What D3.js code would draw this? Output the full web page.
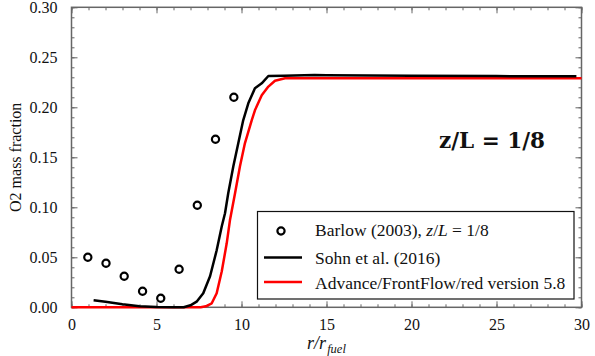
<!DOCTYPE html>
<html><head><meta charset="utf-8">
<script src="https://cdn.jsdelivr.net/npm/d3@7"></script>
<style>body{margin:0;background:#fff}svg{display:block}</style>
</head><body>
<script>
const barlowX = [0.96, 2.03, 3.1, 4.18, 5.25, 6.33, 7.4, 8.47, 9.55];
const barlowY = [0.050, 0.044, 0.031, 0.016, 0.009, 0.038, 0.102, 0.168, 0.210];
const sohnX = [1.3, 2, 3, 4, 5, 6, 6.6, 7.0, 7.36, 7.75, 8.15, 8.54, 8.84, 9.03, 9.22, 9.52, 9.81, 10.1, 10.4, 10.79, 11.19, 11.58, 12.5, 14.3, 15, 20, 25, 29.7];
const sohnY = [0.007, 0.0055, 0.003, 0.001, 0.0002, 0, 0, 0.002, 0.0056, 0.014, 0.031, 0.057, 0.081, 0.094, 0.114, 0.141, 0.164, 0.187, 0.204, 0.219, 0.224, 0.2313, 0.2315, 0.2323, 0.232, 0.2315, 0.2312, 0.231];
const ffrX = [0, 7.6, 7.9, 8.25, 8.54, 8.84, 9.13, 9.32, 9.62, 9.91, 10.2, 10.6, 10.79, 11.19, 11.58, 11.97, 12.56, 14.3, 20, 30];
const ffrY = [0, 0, 0.001, 0.004, 0.014, 0.036, 0.064, 0.087, 0.114, 0.141, 0.164, 0.187, 0.197, 0.212, 0.2207, 0.2266, 0.229, 0.229, 0.229, 0.229];
const xTicks = [0, 5, 10, 15, 20, 25, 30];
const yTicks = [0, 0.05, 0.10, 0.15, 0.20, 0.25, 0.30];
const legendLabels = ["Barlow (2003), ", "Sohn et al. (2016)", "Advance/FrontFlow/red version 5.8"];

const W = 595, H = 356;
const L = 71.5, R = 581.5, T = 7.3, B = 307.3;
const serif = "'Liberation Serif', 'Times New Roman', serif";
const axisCol = "#666";

const svg = d3.select("body").append("svg").attr("width", W).attr("height", H);
const x = d3.scaleLinear().domain([0, 30]).range([L, R]);
const y = d3.scaleLinear().domain([0, 0.30]).range([B, T]);

function styleAxis(g) {
  g.select(".domain").remove();
  g.selectAll(".tick line").attr("stroke", axisCol).attr("stroke-width", 1);
  g.selectAll(".tick text").attr("font-family", serif).attr("font-size", 16).attr("fill", "#111");
}
const minorX = d3.range(0, 31, 1), minorY = d3.range(0, 0.3001, 0.01);
// bottom
svg.append("g").attr("transform", `translate(0,${B})`)
  .call(d3.axisBottom(x).tickValues(minorX).tickSize(-3).tickFormat("")).call(styleAxis);
svg.append("g").attr("transform", `translate(0,${B})`)
  .call(d3.axisBottom(x).tickValues(xTicks).tickSizeInner(-6).tickSizeOuter(0).tickPadding(11).tickFormat(d3.format("d"))).call(styleAxis)
  .selectAll(".tick text").attr("dy", "0.71em");
// top
svg.append("g").attr("transform", `translate(0,${T})`)
  .call(d3.axisTop(x).tickValues(minorX).tickSize(-3).tickFormat("")).call(styleAxis);
svg.append("g").attr("transform", `translate(0,${T})`)
  .call(d3.axisTop(x).tickValues(xTicks).tickSize(-6).tickFormat("")).call(styleAxis);
// left
svg.append("g").attr("transform", `translate(${L},0)`)
  .call(d3.axisLeft(y).tickValues(minorY).tickSize(-3).tickFormat("")).call(styleAxis);
svg.append("g").attr("transform", `translate(${L},0)`)
  .call(d3.axisLeft(y).tickValues(yTicks).tickSizeInner(-6).tickSizeOuter(0).tickPadding(14).tickFormat(d3.format(".2f"))).call(styleAxis);
// right
svg.append("g").attr("transform", `translate(${R},0)`)
  .call(d3.axisRight(y).tickValues(minorY).tickSize(-3).tickFormat("")).call(styleAxis);
svg.append("g").attr("transform", `translate(${R},0)`)
  .call(d3.axisRight(y).tickValues(yTicks).tickSize(-6).tickFormat("")).call(styleAxis);

svg.append("rect").attr("x", L).attr("y", T).attr("width", R - L).attr("height", B - T)
  .attr("fill", "none").attr("stroke", axisCol).attr("stroke-width", 1.5);

const line = d3.line().x(d => x(d[0])).y(d => y(d[1]));
svg.append("path").datum(ffrX.map((v, i) => [v, ffrY[i]])).attr("d", line)
  .attr("fill", "none").attr("stroke", "#ff0000").attr("stroke-width", 2.5).attr("stroke-linejoin", "round");
svg.append("path").datum(sohnX.map((v, i) => [v, sohnY[i]])).attr("d", line)
  .attr("fill", "none").attr("stroke", "#000").attr("stroke-width", 2.5).attr("stroke-linejoin", "round");
svg.append("g").selectAll("circle").data(barlowX.map((v, i) => [v, barlowY[i]])).join("circle")
  .attr("cx", d => x(d[0])).attr("cy", d => y(d[1])).attr("r", 3.6)
  .attr("fill", "none").attr("stroke", "#000").attr("stroke-width", 2.2);

// axis labels
svg.append("text").attr("transform", `translate(21,${(T + B) / 2}) rotate(-90)`)
  .attr("text-anchor", "middle").attr("font-family", serif).attr("font-size", 16).attr("fill", "#111")
  .text("O2 mass fraction");
const xl = svg.append("text").attr("x", (L + R) / 2).attr("y", 349).attr("text-anchor", "middle")
  .attr("font-family", serif).attr("font-size", 18).attr("font-style", "italic").attr("fill", "#111");
xl.append("tspan").text("r/r");
xl.append("tspan").attr("font-size", 12.5).attr("dy", 4).attr("dx", 1).text("fuel");

// annotation
svg.append("text").attr("x", 492).attr("y", 148).attr("text-anchor", "middle")
  .attr("font-family", "'DejaVu Serif', serif").attr("font-weight", "bold").attr("font-size", 21.5)
  .attr("fill", "#111").text("z/L = 1/8");

// legend
const lg = svg.append("g");
lg.append("rect").attr("x", 257.5).attr("y", 211.5).attr("width", 316.5).attr("height", 87.5)
  .attr("fill", "#fff").attr("stroke", "#111").attr("stroke-width", 1.2);
const rowsY = [231, 257.5, 282];
lg.append("circle").attr("cx", 281).attr("cy", rowsY[0]).attr("r", 3.6)
  .attr("fill", "none").attr("stroke", "#000").attr("stroke-width", 2.2);
lg.append("line").attr("x1", 264).attr("x2", 302).attr("y1", rowsY[1]).attr("y2", rowsY[1])
  .attr("stroke", "#000").attr("stroke-width", 2.5);
lg.append("line").attr("x1", 264).attr("x2", 302).attr("y1", rowsY[2]).attr("y2", rowsY[2])
  .attr("stroke", "#ff0000").attr("stroke-width", 2.5);
const t0 = lg.append("text").attr("x", 315).attr("y", 236).attr("font-family", serif).attr("font-size", 17.5).attr("fill", "#111");
t0.append("tspan").text(legendLabels[0]);
t0.append("tspan").attr("font-style", "italic").text("z");
t0.append("tspan").text("/");
t0.append("tspan").attr("font-style", "italic").text("L");
t0.append("tspan").text(" = 1/8");
lg.append("text").attr("x", 315).attr("y", 263.5).attr("font-family", serif).attr("font-size", 17.5).attr("fill", "#111").text(legendLabels[1]);
lg.append("text").attr("x", 315).attr("y", 288.5).attr("font-family", serif).attr("font-size", 17.5).attr("fill", "#111").text(legendLabels[2]);
</script>
</body></html>
